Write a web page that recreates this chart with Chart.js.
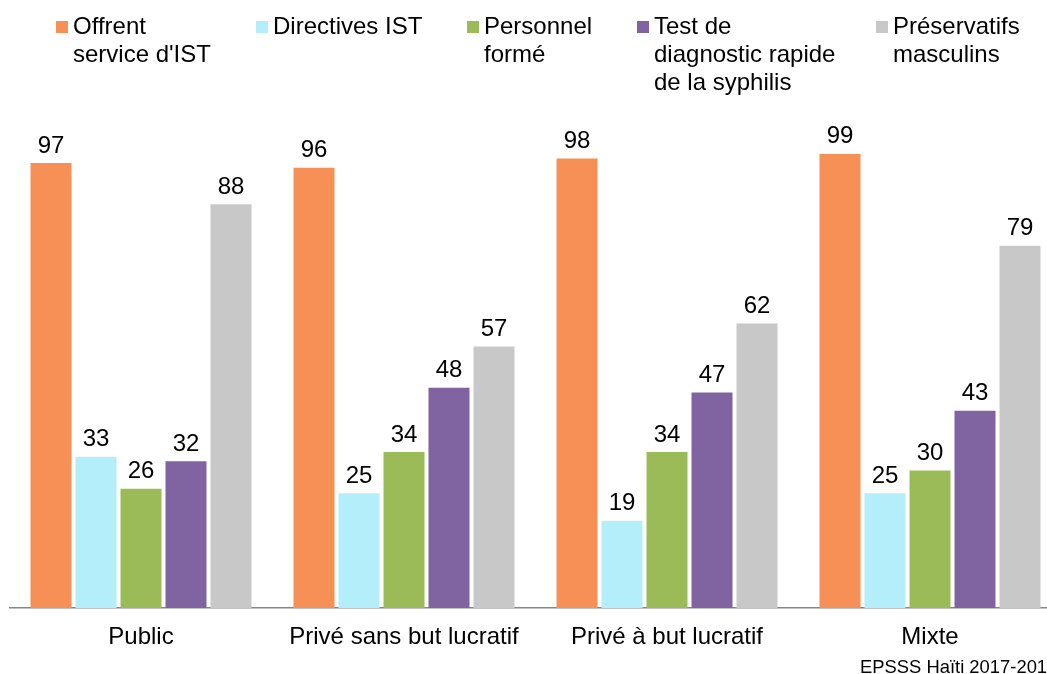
<!DOCTYPE html>
<html>
<head>
<meta charset="utf-8">
<script src="https://cdn.jsdelivr.net/npm/chart.js@4/dist/chart.umd.min.js"></script>
<style>
html,body{margin:0;padding:0;background:#fff;overflow:hidden;width:1047px;height:674px;}
#wrap{position:absolute;left:0;top:0;width:1072px;height:674px;}
</style>
</head>
<body>
<div id="wrap"><canvas id="c" width="1072" height="674"></canvas></div>
<script>
const categories = ["Public", "Privé sans but lucratif", "Privé à but lucratif", "Mixte"];
const seriesNames = ["Offrent service d'IST", "Directives IST", "Personnel formé", "Test de diagnostic rapide de la syphilis", "Préservatifs masculins"];
const legendLines = [["Offrent", "service d'IST"], ["Directives IST"], ["Personnel", "formé"], ["Test de", "diagnostic rapide", "de la syphilis"], ["Préservatifs", "masculins"]];
const offrent = [97, 96, 98, 99];
const directives = [33, 25, 19, 25];
const personnel = [26, 34, 34, 30];
const testSyphilis = [32, 48, 47, 43];
const preservatifs = [88, 57, 62, 79];
const colors = ["#F79056", "#B5EEFB", "#9BBB59", "#8064A2", "#C8C8C8"];
const sourceText = "EPSSS Haïti 2017-2018";

const FONT = "'Liberation Sans', Arial, sans-serif";

const valueLabels = {
  id: 'valueLabels',
  afterDatasetsDraw(chart) {
    const ctx = chart.ctx;
    ctx.save();
    ctx.font = "24px " + FONT;
    ctx.fillStyle = "#000";
    ctx.textAlign = "center";
    ctx.textBaseline = "alphabetic";
    chart.data.datasets.forEach((ds, i) => {
      chart.getDatasetMeta(i).data.forEach((bar, j) => {
        ctx.fillText(String(ds.data[j]), bar.x, bar.y - 10.5);
      });
    });
    ctx.restore();
  }
};

const customLegend = {
  id: 'customLegend',
  afterDraw(chart) {
    const ctx = chart.ctx;
    const xs = [56, 256, 467, 637, 876];
    ctx.save();
    ctx.font = "24px " + FONT;
    ctx.textAlign = "left";
    ctx.textBaseline = "alphabetic";
    legendLines.forEach((lines, i) => {
      ctx.fillStyle = colors[i];
      ctx.fillRect(xs[i], 21, 12, 12);
      ctx.fillStyle = "#000";
      lines.forEach((ln, k) => {
        ctx.fillText(ln, xs[i] + 17, 34 + k * 28);
      });
    });
    ctx.font = "18.4px " + FONT;
    ctx.textAlign = "left";
    ctx.fillText(sourceText, 860, 673);
    ctx.restore();
  }
};

const datasets = [offrent, directives, personnel, testSyphilis, preservatifs].map((d, i) => ({
  label: seriesNames[i],
  data: d,
  backgroundColor: colors[i],
  borderWidth: 0,
  barPercentage: 41 / 45,
  categoryPercentage: 225 / 263
}));

new Chart(document.getElementById('c'), {
  type: 'bar',
  data: { labels: categories, datasets },
  options: {
    responsive: false,
    animation: false,
    devicePixelRatio: 1,
    layout: { padding: { left: 9.5, right: 10.5, top: 149.3, bottom: 8.2 } },
    plugins: { legend: { display: false }, tooltip: { enabled: false } },
    scales: {
      x: {
        grid: { display: false, drawTicks: false },
        border: { display: true, color: '#868686', width: 1.5 },
        ticks: { color: '#000', font: { family: FONT, size: 24 }, padding: 14.5, maxRotation: 0, autoSkip: false }
      },
      y: { display: false, min: 0, max: 100 }
    }
  },
  plugins: [valueLabels, customLegend]
});
</script>
</body>
</html>
